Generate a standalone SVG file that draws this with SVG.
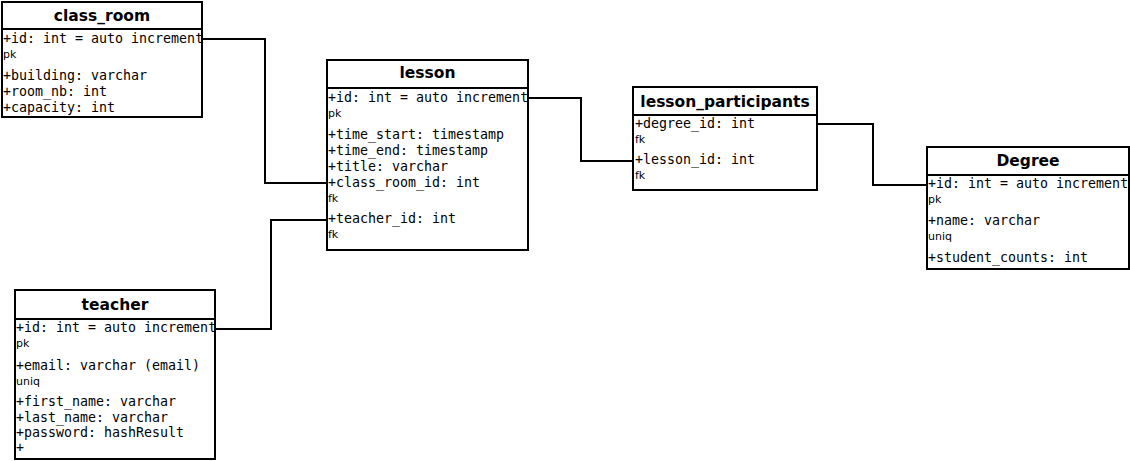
<svg xmlns="http://www.w3.org/2000/svg" width="1130" height="461" viewBox="0 0 1130 461">
<style>
.box{fill:#fff;stroke:#000;stroke-width:2}
.sep{stroke:#000;stroke-width:2}
.title{font-family:"DejaVu Sans",sans-serif;font-weight:bold;font-size:15.5px;text-anchor:middle;fill:#000}
.attr{font-family:"DejaVu Sans Mono",monospace;font-size:13.3px;fill:#000}
.note{font-family:"DejaVu Sans",sans-serif;font-size:11px;fill:#000}
.conn{fill:none;stroke:#000;stroke-width:2}
</style>
<rect width="1130" height="461" fill="#fff"/>
<g id="connectors">
<path class="conn" d="M203,39 H265 V183 H327"/>
<path class="conn" d="M215,329 H271 V220 H327"/>
<path class="conn" d="M528,98 H581 V161 H633"/>
<path class="conn" d="M817,124 H873 V185 H927"/>
</g>
<g id="class_room">
<rect class="box" x="2" y="2" width="200" height="115"/>
<line class="sep" x1="2" y1="29" x2="202" y2="29"/>
<text class="title" x="102" y="21">class_room</text>
<text class="attr" x="3" y="43">+id: int = auto increment</text>
<text class="note" x="3" y="58">pk</text>
<text class="attr" x="3" y="80">+building: varchar</text>
<text class="attr" x="3" y="96">+room_nb: int</text>
<text class="attr" x="3" y="112">+capacity: int</text>
</g>
<g id="lesson">
<rect class="box" x="327" y="60" width="201" height="190"/>
<line class="sep" x1="327" y1="88" x2="528" y2="88"/>
<text class="title" x="427.5" y="78">lesson</text>
<text class="attr" x="328" y="102">+id: int = auto increment</text>
<text class="note" x="328" y="117">pk</text>
<text class="attr" x="328" y="139">+time_start: timestamp</text>
<text class="attr" x="328" y="155">+time_end: timestamp</text>
<text class="attr" x="328" y="171">+title: varchar</text>
<text class="attr" x="328" y="187">+class_room_id: int</text>
<text class="note" x="328" y="202">fk</text>
<text class="attr" x="328" y="223">+teacher_id: int</text>
<text class="note" x="328" y="238">fk</text>
</g>
<g id="lesson_participants">
<rect class="box" x="633" y="87" width="184" height="103"/>
<line class="sep" x1="633" y1="115" x2="817" y2="115"/>
<text class="title" x="725" y="107">lesson_participants</text>
<text class="attr" x="635" y="128">+degree_id: int</text>
<text class="note" x="635" y="143">fk</text>
<text class="attr" x="635" y="164">+lesson_id: int</text>
<text class="note" x="635" y="179">fk</text>
</g>
<g id="Degree">
<rect class="box" x="927" y="147" width="202" height="122"/>
<line class="sep" x1="927" y1="175" x2="1129" y2="175"/>
<text class="title" x="1028" y="166">Degree</text>
<text class="attr" x="928" y="188">+id: int = auto increment</text>
<text class="note" x="928" y="203">pk</text>
<text class="attr" x="928" y="225">+name: varchar</text>
<text class="note" x="928" y="240">uniq</text>
<text class="attr" x="928" y="262">+student_counts: int</text>
</g>
<g id="teacher">
<rect class="box" x="15" y="290" width="200" height="169"/>
<line class="sep" x1="15" y1="319" x2="215" y2="319"/>
<text class="title" x="115" y="310">teacher</text>
<text class="attr" x="16" y="332">+id: int = auto increment</text>
<text class="note" x="16" y="347">pk</text>
<text class="attr" x="16" y="370">+email: varchar (email)</text>
<text class="note" x="16" y="385">uniq</text>
<text class="attr" x="16" y="406">+first_name: varchar</text>
<text class="attr" x="16" y="422">+last_name: varchar</text>
<text class="attr" x="16" y="437">+password: hashResult</text>
<text class="attr" x="16" y="452">+</text>
</g>
</svg>
